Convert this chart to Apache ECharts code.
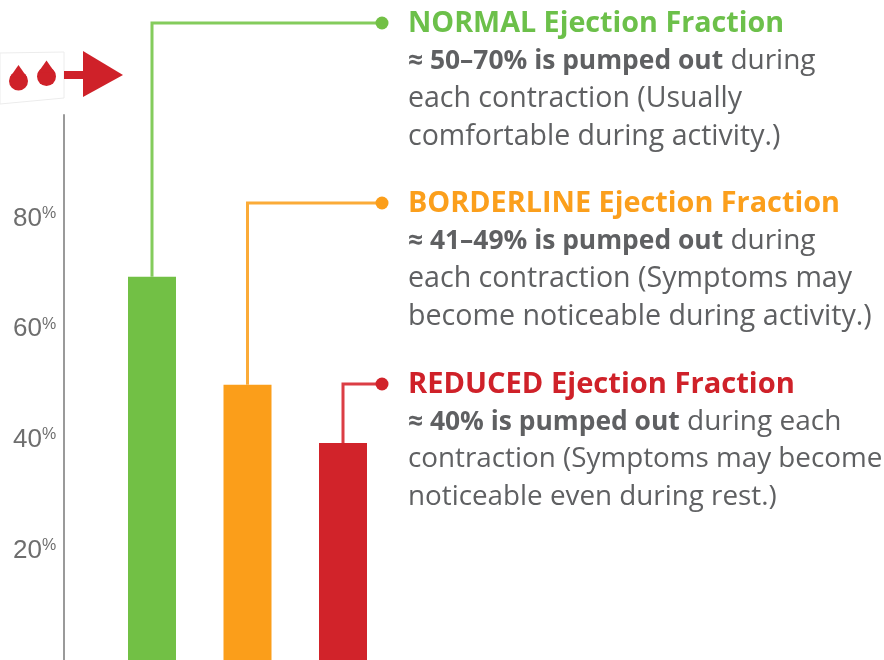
<!DOCTYPE html>
<html>
<head>
<meta charset="utf-8">
<style>
  html, body { margin: 0; padding: 0; background: #fff; }
  #chart { width: 884px; height: 660px; }
</style>
<script src="https://cdn.jsdelivr.net/npm/echarts@6/dist/echarts.min.js"></script>
</head>
<body>
<div id="chart"></div>
<script>
const categories = ['NORMAL', 'BORDERLINE', 'REDUCED'];
const fractions = [69.2, 49.7, 39.2];
const yTicks = [20, 40, 60, 80];
const barColors = ['#72c045', '#fb9e1a', '#d1232a'];
const lineColors = ['#84cc5c', '#fbab38', '#db3d44'];
const headings = ['NORMAL Ejection Fraction', 'BORDERLINE Ejection Fraction', 'REDUCED Ejection Fraction'];
const headingColors = ['#6cc04a', '#fb9f1c', '#cf2129'];
const boldLeads = ['≈ 50–70% is pumped out', '≈ 41–49% is pumped out', '≈ 40% is pumped out'];
const leadRests = [' during', ' during', ' during each'];
const bodyLines = [
  ['each contraction (Usually', 'comfortable during activity.)'],
  ['each contraction (Symptoms may', 'become noticeable during activity.)'],
  ['contraction (Symptoms may become', 'noticeable even during rest.)']
];

const FONT = '"Open Sans", "Noto Sans", sans-serif';
const TEXT_GREY = '#5f6062';
const blockTop = [22, 202, 383];
const headingSize = [28.7, 28.8, 29.1];
const bodySize = [28.5, 28.6, 27.8];
const dotX = 382;
const textX = 408;

// 右侧说明文字
function textBlocks() {
  const out = [];
  headings.forEach((h, i) => {
    const y = blockTop[i] + 1.5;
    out.push({
      type: 'text', x: textX, y: y,
      style: { text: h, font: '700 ' + headingSize[i] + 'px ' + FONT, fill: headingColors[i], textVerticalAlign: 'middle' }
    });
    out.push({
      type: 'text', x: textX, y: y + 38,
      style: {
        text: '{b|' + boldLeads[i] + '}{r|' + leadRests[i] + '}',
        textVerticalAlign: 'middle',
        rich: {
          b: { font: '700 26.4px ' + FONT, fill: TEXT_GREY },
          r: { font: '400 28px ' + FONT, fill: TEXT_GREY }
        }
      }
    });
    bodyLines[i].forEach((line, j) => {
      out.push({
        type: 'text', x: textX, y: y + 75 + j * 38,
        style: { text: line, font: '400 ' + bodySize[i] + 'px ' + FONT, fill: TEXT_GREY, textVerticalAlign: 'middle' }
      });
    });
  });
  return out;
}

// 左上角的血滴和箭头
function dropAt(cx, cy, r, h) {
  return [
    { type: 'circle', shape: { cx: cx, cy: cy, r: r }, style: { fill: '#cf2129' } },
    {
      type: 'polygon',
      shape: { points: [[cx, cy - h], [cx + r * 0.9, cy - r * 0.4], [cx - r * 0.9, cy - r * 0.4]] },
      style: { fill: '#cf2129' }
    }
  ];
}

function iconParts() {
  return [
    {
      type: 'polygon',
      shape: { points: [[0, 53], [64, 52], [64, 98], [0, 104]] },
      style: { fill: '#fff', stroke: '#ececec', lineWidth: 1 }
    },
    ...dropAt(18.5, 81, 9.5, 16),
    ...dropAt(46.5, 76.5, 9.5, 16),
    { type: 'rect', shape: { x: 64, y: 71, width: 20, height: 8 }, style: { fill: '#cf2129' } },
    {
      type: 'polygon',
      shape: { points: [[83, 51], [123, 75], [83, 97]] },
      style: { fill: '#cf2129' }
    }
  ];
}

const chart = echarts.init(document.getElementById('chart'), null, { renderer: 'canvas' });

chart.setOption({
  animation: false,
  backgroundColor: '#fff',
  grid: { left: 104.25, width: 286.5, top: 115, bottom: 0 },
  xAxis: { type: 'category', data: categories, show: false },
  yAxis: {
    type: 'value',
    min: 0,
    max: 98.4,
    interval: 20,
    offset: 41,
    axisLine: { show: true, lineStyle: { color: '#9a9a9a', width: 2 } },
    axisTick: { show: false },
    splitLine: { show: false },
    axisLabel: {
      margin: 7,
      formatter: v => yTicks.includes(v) ? '{n|' + v + '}{p|%}' : '',
      rich: {
        n: { fontFamily: '"Liberation Sans", Arial, sans-serif', fontSize: 26, color: '#6e6e6e', padding: [3, 0, 0, 0] },
        p: { fontFamily: '"Liberation Sans", Arial, sans-serif', fontSize: 16, color: '#6e6e6e', padding: [0, 0, 7, 0] }
      }
    }
  },
  series: [
    {
      type: 'bar',
      barWidth: 48,
      data: fractions.map((v, i) => ({ value: v, itemStyle: { color: barColors[i] } }))
    },
    {
      // 从柱顶引到说明文字的折线
      type: 'custom',
      clip: false,
      silent: true,
      z: 3,
      data: fractions.map((v, i) => [i, v]),
      renderItem: (params, api) => {
        const i = api.value(0);
        const top = api.coord([i, api.value(1)]);
        const y = blockTop[i] + 1;
        return {
          type: 'group',
          children: [
            {
              type: 'polyline',
              shape: { points: [[top[0], top[1]], [top[0], y], [dotX, y]] },
              style: { stroke: lineColors[i], lineWidth: 3, fill: null }
            },
            {
              type: 'circle',
              shape: { cx: dotX, cy: y, r: 6.5 },
              style: { fill: barColors[i] }
            }
          ]
        };
      }
    }
  ],
  graphic: [...iconParts(), ...textBlocks()]
});
</script>
</body>
</html>
